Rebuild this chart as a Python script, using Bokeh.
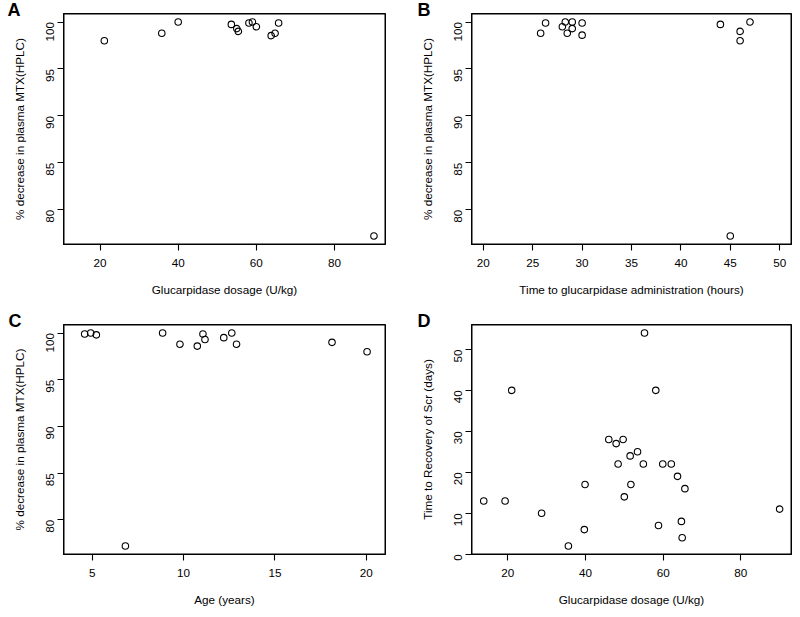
import math
from bokeh.plotting import figure
from bokeh.layouts import column, row
from bokeh.models import Range1d, FixedTicker, Title, ColumnDataSource
from bokeh.embed import file_html
from bokeh.resources import INLINE

# ---- data ----
dose_a = [21.1, 35.8, 40.0, 53.6, 55.0, 55.4, 58.1, 59.0, 60.0, 63.8, 64.8, 65.7, 90.1]
pct_a = [98.0, 98.8, 100.0, 99.75, 99.3, 99.0, 99.9, 100.0, 99.5, 98.55, 98.8, 99.9, 77.2]

hours_b = [25.8, 26.3, 28.0, 28.3, 28.5, 29.0, 29.0, 30.0, 30.0, 44.0, 45.0, 46.0, 46.0, 47.0]
pct_b = [98.8, 99.9, 99.5, 100.0, 98.8, 100.0, 99.3, 99.9, 98.6, 99.75, 77.2, 99.0, 98.0, 100.0]

age_c = [4.58, 4.91, 5.22, 6.81, 8.85, 9.8, 10.75, 11.06, 11.17, 12.2, 12.64, 12.9, 18.13, 20.05]
pct_c = [99.9, 100.0, 99.8, 77.2, 100.0, 98.8, 98.6, 99.9, 99.3, 99.5, 100.0, 98.8, 99.0, 98.0]

dose_d = [13.8, 19.3, 21.0, 28.7, 35.6, 39.7, 39.9, 46.0, 47.9, 48.4, 49.7, 50.0, 51.5, 51.7,
          53.4, 54.9, 55.2, 58.1, 58.8, 59.9, 62.1, 63.7, 64.7, 64.9, 65.6, 90.0]
days_d = [13, 13, 40, 10, 2, 6, 17, 28, 27, 22, 28, 14, 24, 17,
          25, 22, 54, 40, 7, 22, 22, 19, 8, 4, 16, 11]

ticks_dose = [20, 40, 60, 80]
ticks_pct = [80, 85, 90, 95, 100]
ticks_hours = [20, 25, 30, 35, 40, 45, 50]
ticks_age = [5, 10, 15, 20]
ticks_days = [0, 10, 20, 30, 40, 50]

FONT = "Liberation Sans"
FS = "11.7px"


def make_fig(xs, ys, xr, yr, xt, yt, xlabel, ylabel, letter, width, height,
             bl, br, bt, bb, loff):
    p = figure(width=width, height=height, output_backend="svg", toolbar_location=None,
               x_range=Range1d(*xr), y_range=Range1d(*yr),
               min_border_left=bl, min_border_right=br, min_border_top=bt, min_border_bottom=bb)
    p.xgrid.visible = False
    p.ygrid.visible = False
    p.outline_line_color = "#000000"
    p.outline_line_width = 1
    p.background_fill_color = "white"
    p.border_fill_color = "white"
    # plot box drawn along the frame edges (from the axis ranges)
    p.quad(left=[xr[0]], right=[xr[1]], bottom=[yr[0]], top=[yr[1]],
           fill_color=None, line_color="black", line_width=2)
    src = ColumnDataSource(dict(x=xs, y=ys))
    p.scatter("x", "y", source=src, size=6.5, fill_color=None, line_color="black", line_width=1.1)
    for ax, ticks, lab in ((p.xaxis[0], xt, xlabel), (p.yaxis[0], yt, ylabel)):
        ax.ticker = FixedTicker(ticks=ticks, minor_ticks=[])
        ax.minor_tick_line_color = None
        ax.major_tick_out = 6
        ax.major_tick_in = 0
        ax.axis_line_color = "#000000"
        ax.axis_line_width = 1
        ax.major_tick_line_color = "#000000"
        ax.major_tick_line_width = 1.1
        ax.major_label_text_font = FONT
        ax.major_label_text_font_size = FS
        ax.major_label_text_color = "black"
        ax.axis_label = lab
        ax.axis_label_text_font = FONT
        ax.axis_label_text_font_size = FS
        ax.axis_label_text_font_style = "normal"
        ax.axis_label_text_color = "black"
    xa = p.xaxis[0]
    ya = p.yaxis[0]
    xa.major_label_standoff = 8
    xa.axis_label_standoff = 13
    ya.major_label_orientation = math.pi / 2
    ya.major_label_standoff = 7
    ya.axis_label_standoff = 14
    # panel letter as a left-aligned title pulled down beside the y-axis label
    p.add_layout(Title(text=letter, align="left", offset=loff, standoff=-13,
                       text_font=FONT, text_font_size="18px", text_font_style="bold",
                       text_color="black"), "above")
    return p


ylab_pct = "% decrease in plasma MTX(HPLC)"
pa = make_fig(dose_a, pct_a, (10.65, 93.05), (76.29, 100.91), ticks_dose, ticks_pct,
              "Glucarpidase dosage (U/kg)", ylab_pct, "A", 400, 308, 63, 15, 13, 64, -56)
pb = make_fig(hours_b, pct_b, (18.8, 51.2), (76.29, 100.91), ticks_hours, ticks_pct,
              "Time to glucarpidase administration (hours)", ylab_pct, "B", 400, 308, 71, 9, 13, 64, -54)
pc = make_fig(age_c, pct_c, (3.42, 21.06), (76.29, 100.91), ticks_age, ticks_pct,
              "Age (years)", ylab_pct, "C", 400, 309, 63, 15, 15, 63, -55)
pd_ = make_fig(dose_d, days_d, (10.65, 93.05), (-0.08, 56.08), ticks_dose, ticks_days,
               "Glucarpidase dosage (U/kg)", "Time to Recovery of Scr (days)", "D", 400, 309, 71, 9, 16, 63, -54)

layout = column(row(pa, pb), row(pc, pd_))
open("out.html", "w").write(file_html(layout, INLINE))
